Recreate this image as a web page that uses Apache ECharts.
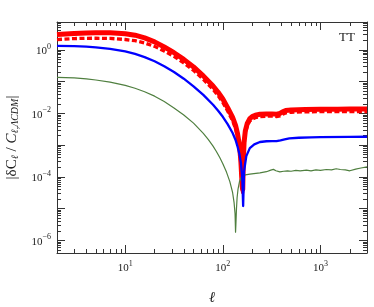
<!DOCTYPE html>
<html>
<head>
<meta charset="utf-8">
<script src="https://cdn.jsdelivr.net/npm/echarts@6/dist/echarts.min.js"></script>
<style>html,body{margin:0;padding:0;background:#fff}#c{width:374px;height:307px}</style>
</head>
<body>
<div id="c"></div>
<script>
// ---- data ----
const ellRed = [2,3,4,5,7,10,12.6,15.8,20,25.1,31.6,39.8,50.1,63.1,79.4,89.1,100,112,126,135,141,148,153,158,160,162,165,170,178,189,200,215,240,280,320,355,385,410,440,500,700,1000,1500,2000,3000];
const redSolid = [3.05,3.27,3.39,3.44,3.43,3.2,2.88,2.37,1.78,1.23,0.81,0.5,0.288,0.151,0.0724,0.0468,0.0282,0.0151,0.0074,0.0042,0.0024,0.001,0.00032,0.00005,0.00004,0.0003,0.0012,0.0028,0.0048,0.0068,0.0079,0.0087,0.0093,0.0096,0.0096,0.0094,0.0099,0.0112,0.0122,0.0128,0.0132,0.0134,0.0135,0.0136,0.0136];
const redDashed = [2.10,2.26,2.30,2.31,2.28,2.11,1.93,1.64,1.28,0.91,0.62,0.385,0.225,0.118,0.0565,0.0365,0.022,0.0118,0.0058,0.0033,0.0019,0.00078,0.00025,0.00004,0.00003,0.00025,0.001,0.0023,0.004,0.0057,0.0066,0.0073,0.0078,0.0081,0.0081,0.0079,0.0083,0.0094,0.0103,0.0108,0.0111,0.0113,0.0114,0.0114,0.0114];
const ellBlue = [2,3,4,5,7,10,12.6,15.8,20,25.1,31.6,39.8,50.1,63.1,79.4,89.1,100,112,126,135,141,148,153,158,161.5,165,174,189,210,240,280,320,355,390,430,480,600,800,1000,2000,3000];
const blueVals = [1.32,1.30,1.26,1.20,1.07,0.89,0.74,0.59,0.437,0.302,0.2,0.123,0.0708,0.038,0.0186,0.0123,0.00776,0.00457,0.0024,0.00145,0.00093,0.00052,0.00028,0.0001,0.000012,0.00015,0.00045,0.0008,0.00105,0.00125,0.00132,0.00133,0.00133,0.0014,0.00152,0.00162,0.0017,0.00175,0.00178,0.0018,0.00183];
const ellGreen = [2,3,4,5,7,10,12.6,15.8,20,25.1,31.6,39.8,50.1,63.1,70.8,79.4,85.9,93.3,100,109,118,126,130.3,133.4,135,136,138,140,143,148,155,170,189,240,280,310,330,350,384,420,460,500,560,620,719,800,900,1000,1150,1300,1450,1600,1800,2000,2300,2600,3000];
const greenVals = [0.136,0.130,0.122,0.112,0.0955,0.0759,0.0617,0.0479,0.0347,0.0234,0.0148,0.0089,0.0049,0.00234,0.00151,0.00093,0.00063,0.0004,0.00026,0.000141,0.0000708,0.0000316,0.0000158,0.0000071,0.0000018,0.000003,0.00001,0.000022,0.00004,0.00007,0.0001,0.000115,0.000122,0.000134,0.000145,0.000162,0.000172,0.000155,0.000143,0.00015,0.000155,0.00015,0.00016,0.000155,0.000162,0.000155,0.000165,0.00016,0.00017,0.000165,0.00018,0.00017,0.000165,0.000155,0.000175,0.00019,0.000205];
const xMajor = [10,100,1000];
const yMajor = [1e-6,1e-5,1e-4,1e-3,1e-2,1e-1,1];
const yLabelTicks = [1e-6,1e-4,1e-2,1];
// ---- axis minor tick positions ----
function minorTicks(lo, hi, decLo, decHi){
  const out=[];
  for(let d=decLo; d<=decHi; d++){ for(let k=2;k<=9;k++){ const v=k*Math.pow(10,d); if(v>=lo&&v<=hi) out.push(v);} }
  return out;
}
const X_MIN=2, X_MAX=3000, Y_MIN=4e-7, Y_MAX=7.5;
const xMinor = minorTicks(X_MIN,X_MAX,0,3);
const yMinor = minorTicks(Y_MIN,Y_MAX,-7,0);

const zip=(xs,ys)=>xs.map((x,i)=>[x,ys[i]]);
const FONT='Liberation Serif';
const AX='#333';
const sup = v => { const e=Math.round(Math.log10(v)); return '{b|10}{e|'+(e<0?'\u2212'+(-e):e)+'}'; };
const rich = {b:{fontSize:11,fontFamily:FONT,color:'#222',lineHeight:14,verticalAlign:'bottom'},
              e:{fontSize:8,fontFamily:FONT,color:'#222',lineHeight:14,verticalAlign:'top',padding:[0,0,0,0]}};

function xAx(pos, major, withLabel){
  return {type:'log', logBase:10, min:X_MIN, max:X_MAX, position:pos, gridIndex:0,
    axisLine:{show:major, onZero:false, lineStyle:{color:AX,width:1}},
    axisTick:{show:true, inside:true, length: major?8:4, lineStyle:{color:AX,width:1}, customValues: major?xMajor:xMinor},
    axisLabel:{show:withLabel, customValues:xMajor, margin:7, formatter:sup, rich:rich},
    splitLine:{show:false}, minorTick:{show:false}, minorSplitLine:{show:false}};
}
function yAx(pos, major, withLabel){
  return {type:'log', logBase:10, min:Y_MIN, max:Y_MAX, position:pos, gridIndex:0,
    axisLine:{show:major, onZero:false, lineStyle:{color:AX,width:1}},
    axisTick:{show:true, inside:true, length: major?8:4, lineStyle:{color:AX,width:1}, customValues: major?yMajor:yMinor},
    axisLabel:{show:withLabel, customValues:yLabelTicks, margin:6, formatter:sup, rich:rich},
    splitLine:{show:false}, minorTick:{show:false}, minorSplitLine:{show:false}};
}
const xAxes=[xAx('bottom',true,true), xAx('bottom',false,false), xAx('top',true,false), xAx('top',false,false)];
xAxes[0].name='\u2113'; xAxes[0].nameLocation='middle'; xAxes[0].nameGap=38;
xAxes[0].nameTextStyle={fontFamily:FONT,fontStyle:'italic',fontSize:15,color:'#222'};
const yAxes=[yAx('left',true,true), yAx('left',false,false), yAx('right',true,false), yAx('right',false,false)];
yAxes[0].name='{n||\u03b4C}{s|\u2113}{n| / }{i|C}{s|\u2113,\u039bCDM}{n||}';
yAxes[0].nameLocation='middle'; yAxes[0].nameRotate=90; yAxes[0].nameGap=36;
yAxes[0].nameTextStyle={fontFamily:FONT,color:'#222',rich:{
  n:{fontSize:15,fontFamily:FONT,color:'#222',lineHeight:18},
  i:{fontSize:15,fontFamily:FONT,fontStyle:'italic',color:'#222',lineHeight:18},
  s:{fontSize:10,fontFamily:FONT,fontStyle:'italic',color:'#222',lineHeight:18,verticalAlign:'bottom',padding:[4,0,0,0]}}};

const chart=echarts.init(document.getElementById('c'),null,{renderer:'canvas'});
chart.setOption({
  animation:false,
  backgroundColor:'#fff',
  grid:{left:57,right:7,top:22,bottom:54,containLabel:false,outerBoundsMode:'none'},
  xAxis:xAxes,
  yAxis:yAxes,
  graphic:[{type:'text',right:19,top:31,style:{text:'TT',fontFamily:FONT,fontSize:13,fill:'#222'}}],
  series:[
    {type:'line',name:'red',data:zip(ellRed,redSolid),showSymbol:false,lineStyle:{color:'#ff0000',width:5,join:'round'},z:2},
    {type:'line',name:'redDash',data:zip(ellRed,redDashed),showSymbol:false,lineStyle:{color:'#ff0000',width:3.3,type:[5,2.5]},z:3},
    {type:'line',name:'green',data:zip(ellGreen,greenVals),showSymbol:false,lineStyle:{color:'#4f7f3f',width:1.2,join:'round'},z:4},
    {type:'line',name:'blue',data:zip(ellBlue,blueVals),showSymbol:false,lineStyle:{color:'#0000ff',width:2.3,join:'round'},z:5}
  ]
});
</script>
</body>
</html>
